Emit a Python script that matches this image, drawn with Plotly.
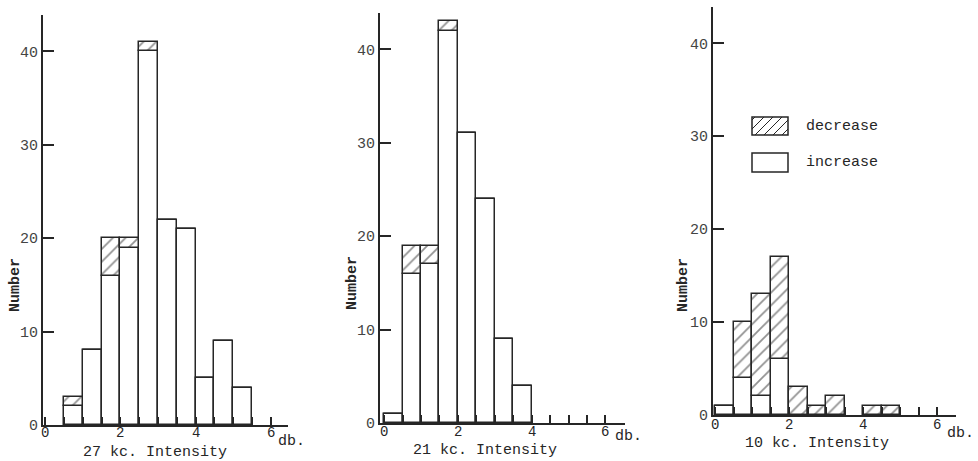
import numpy as np
import plotly.graph_objects as go

W, H = 978, 461

# ---------------- data ----------------
bins_27 = [0.5, 1.0, 1.5, 2.0, 2.5, 3.0, 3.5, 4.0, 4.5, 5.0]
inc_27 = [2, 8, 16, 19, 40, 22, 21, 5, 9, 4]
dec_27 = [1, 0, 4, 1, 1, 0, 0, 0, 0, 0]

bins_21 = [0.0, 0.5, 1.0, 1.5, 2.0, 2.5, 3.0, 3.5]
inc_21 = [1, 16, 17, 42, 31, 24, 9, 4]
dec_21 = [0, 3, 2, 1, 0, 0, 0, 0]

bins_10 = [0.0, 0.5, 1.0, 1.5, 2.0, 2.5, 3.0, 4.0, 4.5]
inc_10 = [1, 4, 2, 6, 0, 0, 0, 0, 0]
dec_10 = [0, 6, 11, 11, 3, 1, 2, 1, 1]

titles = ["27 kc. Intensity", "21 kc. Intensity", "10 kc. Intensity"]
y_ticks = [0, 10, 20, 30, 40]
x_label_ticks = [0, 2, 4, 6]
bin_width = 0.5

panels = [(bins_27, inc_27, dec_27), (bins_21, inc_21, dec_21), (bins_10, inc_10, dec_10)]

# ---------------- layout geometry (pixels) ----------------
geo = [
    dict(xl=43, xr=288, xrange=[-0.06, 6.46], yt=15, yb=425, yrange=[0, 43.9],
         tl_y=433, title=(155, 452), db=(291, 441)),
    dict(xl=380, xr=625, xrange=[-0.11, 6.53], yt=13, yb=423, yrange=[0, 43.9],
         tl_y=432, title=(485, 450), db=(628, 436)),
    dict(xl=713, xr=956, xrange=[-0.06, 6.51], yt=7, yb=415, yrange=[0, 43.9],
         tl_y=425, title=(817, 443), db=(960, 433)),
]

INK = "#262626"
FONT = "Liberation Mono"

fig = go.Figure()
ann = []

def A(text, px, py, size=15, angle=0, xanchor="center", color=INK, xref="paper", xval=None):
    ann.append(dict(text=text, x=(px / W) if xval is None else xval, y=1 - py / H,
                    xref=xref, yref="paper",
                    showarrow=False, xanchor=xanchor, yanchor="middle", textangle=angle,
                    font=dict(family=FONT, size=size, color=color)))

for i, ((bins, inc, dec), g) in enumerate(zip(panels, geo)):
    sfx = "" if i == 0 else str(i + 1)
    fig.add_trace(go.Bar(
        x=bins, y=inc, width=bin_width, offset=0,
        marker=dict(color="white", line=dict(color=INK, width=1.5)),
        xaxis="x" + sfx, yaxis="y" + sfx, showlegend=False, name="increase",
    ))
    fig.add_trace(go.Bar(
        x=bins, y=dec, base=inc, width=bin_width, offset=0,
        marker=dict(color="white", line=dict(color=INK, width=1.5),
                    pattern=dict(shape="/", fgcolor=INK, bgcolor="white",
                                 size=9, solidity=0.2)),
        xaxis="x" + sfx, yaxis="y" + sfx, showlegend=False, name="decrease",
    ))

    xticks = list(np.arange(0, 6.01, 0.5))
    fig.layout["xaxis" + sfx] = dict(
        domain=[g["xl"] / W, g["xr"] / W], range=g["xrange"], anchor="y" + sfx,
        showline=True, linewidth=2, linecolor=INK, showgrid=False, zeroline=False,
        ticks="inside", ticklen=8, tickwidth=1.5, tickcolor=INK,
        tickvals=xticks, showticklabels=False, automargin=False, fixedrange=True,
    )
    fig.layout["yaxis" + sfx] = dict(
        domain=[1 - g["yb"] / H, 1 - g["yt"] / H], range=g["yrange"], anchor="x" + sfx,
        showline=True, linewidth=2, linecolor=INK, showgrid=False, zeroline=False,
        ticks="inside", ticklen=11, tickwidth=1.5, tickcolor=INK,
        tickvals=y_ticks, tickfont=dict(family=FONT, size=15, color="#444"),
        automargin=False, fixedrange=True,
    )
    # x tick labels placed at data positions on this panel's axis
    for v in x_label_ticks:
        A(str(v), 0, g["tl_y"], size=14, xref="x" + sfx, xval=v)
    A(titles[i], g["title"][0], g["title"][1])
    A("db.", g["db"][0], g["db"][1])

for nx, ny in [(15, 285), (352, 283), (683, 285)]:
    A("<b>Number</b>", nx, ny, size=15, angle=-90)

# legend
A("decrease", 804, 126, xanchor="left")
A("increase", 804, 162, xanchor="left")

shapes = []
def box(x0, y0, x1, y1, hatch):
    shapes.append(dict(type="rect", xref="paper", yref="paper",
                       x0=x0 / W, x1=x1 / W, y0=1 - y1 / H, y1=1 - y0 / H,
                       line=dict(color=INK, width=1.5), fillcolor="white"))
    if hatch:
        h = y1 - y0
        s = 9
        d = -h + 3
        while d < (x1 - x0):
            sx, sy = x0 + d, y1
            ex, ey = x0 + d + h, y0
            if sx < x0:
                t = x0 - sx
                sx, sy = x0, y1 - t
            if ex > x1:
                t = ex - x1
                ex, ey = x1, y0 + t
            if ex > sx:
                shapes.append(dict(type="line", xref="paper", yref="paper",
                                   x0=sx / W, y0=1 - sy / H, x1=ex / W, y1=1 - ey / H,
                                   line=dict(color=INK, width=1)))
            d += s

box(752, 117, 788, 135, True)
box(752, 153, 788, 172, False)

fig.update_layout(
    width=W, height=H, margin=dict(l=0, r=0, t=0, b=0, pad=0, autoexpand=False),
    paper_bgcolor="white", plot_bgcolor="white",
    barmode="overlay", bargap=0, showlegend=False,
    annotations=ann, shapes=shapes,
    font=dict(family=FONT, color=INK),
)

fig.write_html("out.html")
